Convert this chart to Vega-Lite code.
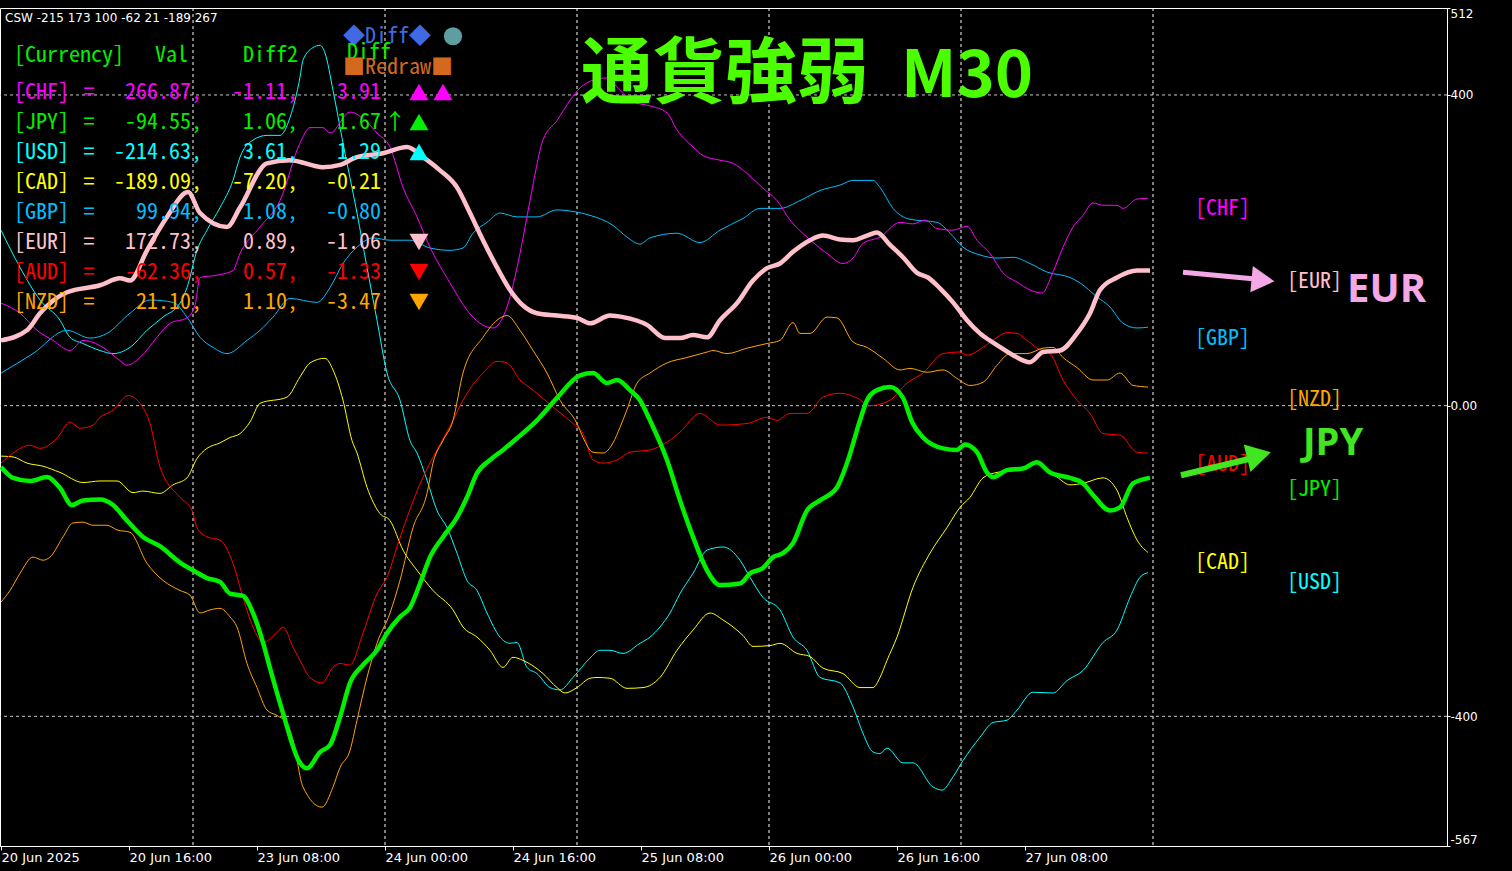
{
"$schema": "https://vega.github.io/schema/vega-lite/v6.json",
"width": 1447, "height": 838,
"autosize": {"type": "none"},
"padding": {"left": 0, "top": 8, "right": 65, "bottom": 25},
"background": "#000000",
"config": {"view": {"stroke": "#FFFFFF", "strokeWidth": 1}, "locale": {"number": {"decimal": ".", "thousands": ",", "grouping": [3], "currency": ["$", ""], "minus": "-"}}},
"datasets": {
"tbl": [
{"r":1,"c":"CHF","name":"[CHF]","val":266.87,"d2":-1.11,"d":3.91,"dir":"up","k":2},
{"r":2,"c":"JPY","name":"[JPY]","val":-94.55,"d2":1.06,"d":1.67,"dir":"up","k":1},
{"r":3,"c":"USD","name":"[USD]","val":-214.63,"d2":3.61,"d":1.29,"dir":"up","k":1},
{"r":4,"c":"CAD","name":"[CAD]","val":-189.09,"d2":-7.20,"d":-0.21,"dir":"none","k":0},
{"r":5,"c":"GBP","name":"[GBP]","val":99.94,"d2":1.08,"d":-0.80,"dir":"none","k":0},
{"r":6,"c":"EUR","name":"[EUR]","val":172.73,"d2":0.89,"d":-1.06,"dir":"down","k":1},
{"r":7,"c":"AUD","name":"[AUD]","val":-62.36,"d2":0.57,"d":-1.33,"dir":"down","k":1},
{"r":8,"c":"NZD","name":"[NZD]","val":21.10,"d2":1.10,"d":-3.47,"dir":"down","k":1}
],
"s": [
{"c":"EUR","t":0,"v":84},{"c":"EUR","t":6.5,"v":97},{"c":"EUR","t":9.75,"v":119},{"c":"EUR","t":16.5,"v":146},{"c":"EUR","t":24.75,"v":155},{"c":"EUR","t":29.75,"v":164},{"c":"EUR","t":32.25,"v":161},{"c":"EUR","t":36.5,"v":200},{"c":"EUR","t":41.5,"v":243},{"c":"EUR","t":46.75,"v":275},{"c":"EUR","t":49.75,"v":248},{"c":"EUR","t":56.5,"v":230},{"c":"EUR","t":59.75,"v":255},{"c":"EUR","t":66.5,"v":312},{"c":"EUR","t":72.25,"v":316},{"c":"EUR","t":80.5,"v":307},{"c":"EUR","t":84.75,"v":310},{"c":"EUR","t":89,"v":320},{"c":"EUR","t":95.5,"v":325},{"c":"EUR","t":101.5,"v":333},{"c":"EUR","t":105.5,"v":320},{"c":"EUR","t":109.75,"v":303},{"c":"EUR","t":114,"v":281},{"c":"EUR","t":117.25,"v":248},{"c":"EUR","t":120.5,"v":213},{"c":"EUR","t":124,"v":178},{"c":"EUR","t":127.25,"v":149},{"c":"EUR","t":130.5,"v":129},{"c":"EUR","t":134,"v":119},{"c":"EUR","t":139,"v":116},{"c":"EUR","t":144,"v":113},{"c":"EUR","t":147.25,"v":106},{"c":"EUR","t":152.25,"v":116},{"c":"EUR","t":155.5,"v":114},{"c":"EUR","t":161.5,"v":104},{"c":"EUR","t":166,"v":87},{"c":"EUR","t":169.75,"v":87},{"c":"EUR","t":173,"v":91},{"c":"EUR","t":176.5,"v":88},{"c":"EUR","t":179.75,"v":110},{"c":"EUR","t":184,"v":132},{"c":"EUR","t":188,"v":161},{"c":"EUR","t":191.5,"v":177},{"c":"EUR","t":194.75,"v":183},{"c":"EUR","t":198,"v":198},{"c":"EUR","t":202.25,"v":213},{"c":"EUR","t":205.5,"v":219},{"c":"EUR","t":209.75,"v":214},{"c":"EUR","t":213,"v":213},{"c":"EUR","t":216.5,"v":219},{"c":"EUR","t":219,"v":223},{"c":"EUR","t":222.25,"v":207},{"c":"EUR","t":225.5,"v":191},{"c":"EUR","t":229,"v":171},{"c":"EUR","t":231.75,"v":165},{"c":"EUR","t":234.75,"v":151},{"c":"EUR","t":238,"v":133},{"c":"EUR","t":241.5,"v":110},{"c":"EUR","t":244.75,"v":93},{"c":"EUR","t":249,"v":78},{"c":"EUR","t":253,"v":65},{"c":"EUR","t":257.25,"v":56},{"c":"EUR","t":260.5,"v":69},{"c":"EUR","t":264.75,"v":71},{"c":"EUR","t":269,"v":93},{"c":"EUR","t":272.25,"v":119},{"c":"EUR","t":274.75,"v":149},{"c":"EUR","t":279,"v":165},{"c":"EUR","t":284,"v":174},{"c":"EUR","t":287.25,"v":174},
{"c":"JPY","t":0,"v":-79},{"c":"JPY","t":3,"v":-93},{"c":"JPY","t":7.25,"v":-97},{"c":"JPY","t":11.5,"v":-92},{"c":"JPY","t":14.75,"v":-106},{"c":"JPY","t":17.75,"v":-128},{"c":"JPY","t":20.5,"v":-122},{"c":"JPY","t":24.75,"v":-121},{"c":"JPY","t":28,"v":-128},{"c":"JPY","t":31.5,"v":-148},{"c":"JPY","t":35.5,"v":-169},{"c":"JPY","t":39.75,"v":-181},{"c":"JPY","t":44.75,"v":-202},{"c":"JPY","t":48,"v":-212},{"c":"JPY","t":51.5,"v":-222},{"c":"JPY","t":54.75,"v":-227},{"c":"JPY","t":57.25,"v":-242},{"c":"JPY","t":60.5,"v":-245},{"c":"JPY","t":63,"v":-267},{"c":"JPY","t":65.5,"v":-305},{"c":"JPY","t":67.25,"v":-338},{"c":"JPY","t":70.5,"v":-396},{"c":"JPY","t":74.75,"v":-460},{"c":"JPY","t":76.5,"v":-467},{"c":"JPY","t":79.75,"v":-446},{"c":"JPY","t":82.25,"v":-437},{"c":"JPY","t":84.75,"v":-401},{"c":"JPY","t":87.25,"v":-357},{"c":"JPY","t":90.5,"v":-334},{"c":"JPY","t":94,"v":-315},{"c":"JPY","t":96.5,"v":-293},{"c":"JPY","t":99.75,"v":-272},{"c":"JPY","t":102.25,"v":-260},{"c":"JPY","t":104.75,"v":-229},{"c":"JPY","t":107.25,"v":-195},{"c":"JPY","t":110.5,"v":-169},{"c":"JPY","t":114,"v":-144},{"c":"JPY","t":116.5,"v":-118},{"c":"JPY","t":119,"v":-87},{"c":"JPY","t":122.25,"v":-70},{"c":"JPY","t":125.5,"v":-57},{"c":"JPY","t":129,"v":-42},{"c":"JPY","t":134,"v":-19},{"c":"JPY","t":139,"v":10},{"c":"JPY","t":144.75,"v":39},{"c":"JPY","t":148,"v":42},{"c":"JPY","t":151.5,"v":29},{"c":"JPY","t":154,"v":33},{"c":"JPY","t":157.25,"v":20},{"c":"JPY","t":159.75,"v":7},{"c":"JPY","t":162.25,"v":-19},{"c":"JPY","t":166.5,"v":-70},{"c":"JPY","t":169.75,"v":-122},{"c":"JPY","t":173,"v":-169},{"c":"JPY","t":176.5,"v":-212},{"c":"JPY","t":179.75,"v":-231},{"c":"JPY","t":184.75,"v":-229},{"c":"JPY","t":187.25,"v":-216},{"c":"JPY","t":190.5,"v":-209},{"c":"JPY","t":193,"v":-195},{"c":"JPY","t":195.5,"v":-190},{"c":"JPY","t":198,"v":-177},{"c":"JPY","t":201.5,"v":-135},{"c":"JPY","t":204.75,"v":-122},{"c":"JPY","t":209,"v":-105},{"c":"JPY","t":211.5,"v":-74},{"c":"JPY","t":214.75,"v":-19},{"c":"JPY","t":216.5,"v":7},{"c":"JPY","t":219,"v":20},{"c":"JPY","t":222.25,"v":24},{"c":"JPY","t":225.5,"v":10},{"c":"JPY","t":227.75,"v":-21},{"c":"JPY","t":230.5,"v":-41},{"c":"JPY","t":235.5,"v":-55},{"c":"JPY","t":239,"v":-57},{"c":"JPY","t":241,"v":-50},{"c":"JPY","t":244,"v":-60},{"c":"JPY","t":246.5,"v":-86},{"c":"JPY","t":248,"v":-92},{"c":"JPY","t":251.5,"v":-83},{"c":"JPY","t":255.5,"v":-81},{"c":"JPY","t":259,"v":-73},{"c":"JPY","t":262.25,"v":-86},{"c":"JPY","t":267.25,"v":-93},{"c":"JPY","t":270.5,"v":-100},{"c":"JPY","t":273,"v":-115},{"c":"JPY","t":277.25,"v":-135},{"c":"JPY","t":279.75,"v":-131},{"c":"JPY","t":283,"v":-100},{"c":"JPY","t":287.25,"v":-93},
{"c":"USD","t":0,"v":226},{"c":"USD","t":4.75,"v":178},{"c":"USD","t":9.75,"v":136},{"c":"USD","t":14.75,"v":110},{"c":"USD","t":17.25,"v":88},{"c":"USD","t":20.5,"v":80},{"c":"USD","t":24.75,"v":71},{"c":"USD","t":28,"v":67},{"c":"USD","t":32.25,"v":75},{"c":"USD","t":36.5,"v":97},{"c":"USD","t":40.5,"v":114},{"c":"USD","t":44.75,"v":132},{"c":"USD","t":46.5,"v":152},{"c":"USD","t":49,"v":200},{"c":"USD","t":51.5,"v":226},{"c":"USD","t":54.75,"v":255},{"c":"USD","t":58,"v":290},{"c":"USD","t":59.75,"v":320},{"c":"USD","t":63,"v":342},{"c":"USD","t":66.5,"v":348},{"c":"USD","t":69.75,"v":348},{"c":"USD","t":72.25,"v":371},{"c":"USD","t":74.75,"v":423},{"c":"USD","t":75.5,"v":445},{"c":"USD","t":78,"v":461},{"c":"USD","t":79.75,"v":464},{"c":"USD","t":81,"v":454},{"c":"USD","t":83,"v":406},{"c":"USD","t":85.5,"v":338},{"c":"USD","t":89,"v":248},{"c":"USD","t":91.5,"v":178},{"c":"USD","t":94,"v":110},{"c":"USD","t":96.5,"v":42},{"c":"USD","t":99.75,"v":7},{"c":"USD","t":102.25,"v":-45},{"c":"USD","t":104,"v":-61},{"c":"USD","t":106.5,"v":-96},{"c":"USD","t":109,"v":-135},{"c":"USD","t":111.5,"v":-157},{"c":"USD","t":114,"v":-190},{"c":"USD","t":116.5,"v":-225},{"c":"USD","t":119,"v":-238},{"c":"USD","t":121.5,"v":-267},{"c":"USD","t":124.75,"v":-298},{"c":"USD","t":127.25,"v":-306},{"c":"USD","t":129,"v":-305},{"c":"USD","t":131.5,"v":-337},{"c":"USD","t":134,"v":-345},{"c":"USD","t":137.25,"v":-363},{"c":"USD","t":139.75,"v":-366},{"c":"USD","t":143,"v":-350},{"c":"USD","t":147.25,"v":-325},{"c":"USD","t":149.75,"v":-315},{"c":"USD","t":152.25,"v":-315},{"c":"USD","t":155.5,"v":-319},{"c":"USD","t":159.75,"v":-306},{"c":"USD","t":162.25,"v":-298},{"c":"USD","t":164.75,"v":-285},{"c":"USD","t":167.25,"v":-267},{"c":"USD","t":169.75,"v":-242},{"c":"USD","t":173,"v":-216},{"c":"USD","t":176.5,"v":-186},{"c":"USD","t":180.5,"v":-182},{"c":"USD","t":184.75,"v":-199},{"c":"USD","t":187.25,"v":-221},{"c":"USD","t":190.5,"v":-247},{"c":"USD","t":194.75,"v":-263},{"c":"USD","t":198,"v":-298},{"c":"USD","t":201.5,"v":-315},{"c":"USD","t":204.75,"v":-350},{"c":"USD","t":209.75,"v":-357},{"c":"USD","t":213,"v":-388},{"c":"USD","t":215.5,"v":-422},{"c":"USD","t":218,"v":-446},{"c":"USD","t":219.75,"v":-448},{"c":"USD","t":221.5,"v":-441},{"c":"USD","t":225.5,"v":-460},{"c":"USD","t":228,"v":-460},{"c":"USD","t":233,"v":-491},{"c":"USD","t":235.25,"v":-495},{"c":"USD","t":238,"v":-478},{"c":"USD","t":240.5,"v":-457},{"c":"USD","t":244.75,"v":-427},{"c":"USD","t":248,"v":-408},{"c":"USD","t":251.5,"v":-405},{"c":"USD","t":254,"v":-392},{"c":"USD","t":258,"v":-369},{"c":"USD","t":263,"v":-370},{"c":"USD","t":266.5,"v":-354},{"c":"USD","t":270.5,"v":-341},{"c":"USD","t":275.5,"v":-305},{"c":"USD","t":279,"v":-289},{"c":"USD","t":282.25,"v":-247},{"c":"USD","t":284.75,"v":-221},{"c":"USD","t":286.75,"v":-215},
{"c":"CAD","t":0,"v":-65},{"c":"CAD","t":3,"v":-66},{"c":"CAD","t":6.5,"v":-74},{"c":"CAD","t":10.5,"v":-78},{"c":"CAD","t":14.75,"v":-86},{"c":"CAD","t":20.5,"v":-99},{"c":"CAD","t":24.75,"v":-97},{"c":"CAD","t":29,"v":-97},{"c":"CAD","t":33,"v":-112},{"c":"CAD","t":35.5,"v":-110},{"c":"CAD","t":39.75,"v":-113},{"c":"CAD","t":43,"v":-102},{"c":"CAD","t":46.5,"v":-93},{"c":"CAD","t":49,"v":-68},{"c":"CAD","t":51.5,"v":-55},{"c":"CAD","t":54.75,"v":-48},{"c":"CAD","t":57.25,"v":-41},{"c":"CAD","t":59.75,"v":-36},{"c":"CAD","t":62.25,"v":-21},{"c":"CAD","t":64.75,"v":3},{"c":"CAD","t":71.5,"v":11},{"c":"CAD","t":74.75,"v":37},{"c":"CAD","t":77.25,"v":55},{"c":"CAD","t":81,"v":61},{"c":"CAD","t":83,"v":46},{"c":"CAD","t":85.5,"v":7},{"c":"CAD","t":87.75,"v":-45},{"c":"CAD","t":89,"v":-61},{"c":"CAD","t":91.5,"v":-105},{"c":"CAD","t":94.75,"v":-139},{"c":"CAD","t":97.25,"v":-148},{"c":"CAD","t":100.5,"v":-186},{"c":"CAD","t":104,"v":-212},{"c":"CAD","t":108,"v":-238},{"c":"CAD","t":113,"v":-263},{"c":"CAD","t":115.5,"v":-285},{"c":"CAD","t":119,"v":-298},{"c":"CAD","t":122.25,"v":-315},{"c":"CAD","t":125.5,"v":-337},{"c":"CAD","t":128,"v":-324},{"c":"CAD","t":130.5,"v":-328},{"c":"CAD","t":135.5,"v":-345},{"c":"CAD","t":139,"v":-363},{"c":"CAD","t":141,"v":-370},{"c":"CAD","t":144,"v":-363},{"c":"CAD","t":147.25,"v":-351},{"c":"CAD","t":149,"v":-350},{"c":"CAD","t":152.25,"v":-351},{"c":"CAD","t":156.5,"v":-364},{"c":"CAD","t":160.5,"v":-363},{"c":"CAD","t":164.75,"v":-350},{"c":"CAD","t":169,"v":-315},{"c":"CAD","t":173,"v":-289},{"c":"CAD","t":177.25,"v":-267},{"c":"CAD","t":180.5,"v":-276},{"c":"CAD","t":185.5,"v":-296},{"c":"CAD","t":188,"v":-310},{"c":"CAD","t":192.25,"v":-309},{"c":"CAD","t":194.75,"v":-306},{"c":"CAD","t":199,"v":-319},{"c":"CAD","t":202.25,"v":-323},{"c":"CAD","t":205.5,"v":-338},{"c":"CAD","t":210.5,"v":-345},{"c":"CAD","t":214.75,"v":-363},{"c":"CAD","t":218,"v":-363},{"c":"CAD","t":219.75,"v":-350},{"c":"CAD","t":221.5,"v":-328},{"c":"CAD","t":224,"v":-298},{"c":"CAD","t":228,"v":-234},{"c":"CAD","t":232.25,"v":-190},{"c":"CAD","t":236.5,"v":-157},{"c":"CAD","t":239.75,"v":-131},{"c":"CAD","t":242.25,"v":-118},{"c":"CAD","t":245.5,"v":-93},{"c":"CAD","t":249,"v":-86},{"c":"CAD","t":254,"v":-83},{"c":"CAD","t":259,"v":-74},{"c":"CAD","t":264,"v":-92},{"c":"CAD","t":267.25,"v":-102},{"c":"CAD","t":270.5,"v":-100},{"c":"CAD","t":275.5,"v":-93},{"c":"CAD","t":279,"v":-109},{"c":"CAD","t":281.5,"v":-144},{"c":"CAD","t":284,"v":-173},{"c":"CAD","t":286.75,"v":-189},
{"c":"GBP","t":0,"v":42},{"c":"GBP","t":8,"v":67},{"c":"GBP","t":16.5,"v":97},{"c":"GBP","t":22.25,"v":87},{"c":"GBP","t":26.5,"v":93},{"c":"GBP","t":32.25,"v":119},{"c":"GBP","t":37.25,"v":136},{"c":"GBP","t":43,"v":133},{"c":"GBP","t":46.5,"v":114},{"c":"GBP","t":49.75,"v":88},{"c":"GBP","t":53,"v":75},{"c":"GBP","t":56.5,"v":67},{"c":"GBP","t":61.5,"v":84},{"c":"GBP","t":64.75,"v":97},{"c":"GBP","t":68,"v":114},{"c":"GBP","t":72.25,"v":138},{"c":"GBP","t":79,"v":133},{"c":"GBP","t":82.25,"v":152},{"c":"GBP","t":85.5,"v":183},{"c":"GBP","t":89,"v":204},{"c":"GBP","t":93,"v":216},{"c":"GBP","t":97.25,"v":213},{"c":"GBP","t":102.25,"v":213},{"c":"GBP","t":107.25,"v":203},{"c":"GBP","t":112.25,"v":200},{"c":"GBP","t":115.5,"v":203},{"c":"GBP","t":118,"v":222},{"c":"GBP","t":121.5,"v":236},{"c":"GBP","t":124.75,"v":248},{"c":"GBP","t":129,"v":243},{"c":"GBP","t":134,"v":243},{"c":"GBP","t":139,"v":252},{"c":"GBP","t":143,"v":250},{"c":"GBP","t":147.25,"v":245},{"c":"GBP","t":153,"v":232},{"c":"GBP","t":156.5,"v":217},{"c":"GBP","t":159.75,"v":208},{"c":"GBP","t":162.25,"v":216},{"c":"GBP","t":169,"v":222},{"c":"GBP","t":174.75,"v":210},{"c":"GBP","t":179.75,"v":226},{"c":"GBP","t":185.5,"v":241},{"c":"GBP","t":189.75,"v":254},{"c":"GBP","t":194.75,"v":254},{"c":"GBP","t":199.75,"v":264},{"c":"GBP","t":204.75,"v":277},{"c":"GBP","t":209.75,"v":284},{"c":"GBP","t":213,"v":290},{"c":"GBP","t":218,"v":290},{"c":"GBP","t":219.75,"v":281},{"c":"GBP","t":223,"v":254},{"c":"GBP","t":227.25,"v":240},{"c":"GBP","t":234,"v":236},{"c":"GBP","t":237.25,"v":222},{"c":"GBP","t":240.5,"v":204},{"c":"GBP","t":244.75,"v":194},{"c":"GBP","t":249,"v":190},{"c":"GBP","t":253,"v":191},{"c":"GBP","t":257.25,"v":183},{"c":"GBP","t":261.5,"v":172},{"c":"GBP","t":267.25,"v":165},{"c":"GBP","t":269.75,"v":158},{"c":"GBP","t":274,"v":140},{"c":"GBP","t":277.25,"v":127},{"c":"GBP","t":280.5,"v":106},{"c":"GBP","t":284,"v":100},{"c":"GBP","t":286.75,"v":101},
{"c":"CHF","t":0,"v":132},{"c":"CHF","t":4.75,"v":119},{"c":"CHF","t":9,"v":97},{"c":"CHF","t":13,"v":84},{"c":"CHF","t":17.25,"v":71},{"c":"CHF","t":20.5,"v":84},{"c":"CHF","t":25.5,"v":75},{"c":"CHF","t":29.75,"v":58},{"c":"CHF","t":31.5,"v":52},{"c":"CHF","t":34.75,"v":62},{"c":"CHF","t":39,"v":88},{"c":"CHF","t":42.25,"v":106},{"c":"CHF","t":46.5,"v":113},{"c":"CHF","t":48.5,"v":129},{"c":"CHF","t":49.75,"v":165},{"c":"CHF","t":54,"v":168},{"c":"CHF","t":58,"v":174},{"c":"CHF","t":59.75,"v":196},{"c":"CHF","t":64.75,"v":230},{"c":"CHF","t":69.75,"v":264},{"c":"CHF","t":74.75,"v":338},{"c":"CHF","t":77.25,"v":358},{"c":"CHF","t":80.5,"v":358},{"c":"CHF","t":82.25,"v":351},{"c":"CHF","t":87.25,"v":378},{"c":"CHF","t":91.5,"v":365},{"c":"CHF","t":94,"v":351},{"c":"CHF","t":97.25,"v":333},{"c":"CHF","t":100.5,"v":281},{"c":"CHF","t":104,"v":243},{"c":"CHF","t":107.25,"v":204},{"c":"CHF","t":112.25,"v":158},{"c":"CHF","t":116.5,"v":123},{"c":"CHF","t":119.75,"v":106},{"c":"CHF","t":123,"v":100},{"c":"CHF","t":126.5,"v":127},{"c":"CHF","t":129.75,"v":196},{"c":"CHF","t":132.25,"v":264},{"c":"CHF","t":135.5,"v":342},{"c":"CHF","t":139,"v":367},{"c":"CHF","t":142.25,"v":393},{"c":"CHF","t":144.75,"v":409},{"c":"CHF","t":148,"v":419},{"c":"CHF","t":151.5,"v":422},{"c":"CHF","t":154.75,"v":406},{"c":"CHF","t":158,"v":391},{"c":"CHF","t":162.25,"v":386},{"c":"CHF","t":166.5,"v":377},{"c":"CHF","t":169,"v":355},{"c":"CHF","t":173,"v":333},{"c":"CHF","t":175.5,"v":322},{"c":"CHF","t":179.75,"v":316},{"c":"CHF","t":183,"v":312},{"c":"CHF","t":186.5,"v":299},{"c":"CHF","t":190.5,"v":280},{"c":"CHF","t":194,"v":264},{"c":"CHF","t":197.25,"v":239},{"c":"CHF","t":201.5,"v":217},{"c":"CHF","t":206.5,"v":196},{"c":"CHF","t":210.5,"v":183},{"c":"CHF","t":213,"v":190},{"c":"CHF","t":215.5,"v":209},{"c":"CHF","t":219.75,"v":217},{"c":"CHF","t":224.75,"v":236},{"c":"CHF","t":228,"v":234},{"c":"CHF","t":231,"v":239},{"c":"CHF","t":234,"v":228},{"c":"CHF","t":238,"v":226},{"c":"CHF","t":241.5,"v":231},{"c":"CHF","t":244,"v":213},{"c":"CHF","t":247.25,"v":196},{"c":"CHF","t":250.5,"v":171},{"c":"CHF","t":254,"v":159},{"c":"CHF","t":257.25,"v":149},{"c":"CHF","t":260.25,"v":145},{"c":"CHF","t":263,"v":172},{"c":"CHF","t":265.5,"v":204},{"c":"CHF","t":268,"v":230},{"c":"CHF","t":270.5,"v":245},{"c":"CHF","t":273,"v":261},{"c":"CHF","t":275.5,"v":258},{"c":"CHF","t":279,"v":258},{"c":"CHF","t":280.5,"v":254},{"c":"CHF","t":284,"v":266},{"c":"CHF","t":286.75,"v":267},
{"c":"AUD","t":0,"v":-74},{"c":"AUD","t":3,"v":-61},{"c":"AUD","t":7.25,"v":-51},{"c":"AUD","t":9.75,"v":-55},{"c":"AUD","t":14,"v":-42},{"c":"AUD","t":17.25,"v":-21},{"c":"AUD","t":19.75,"v":-29},{"c":"AUD","t":23,"v":-25},{"c":"AUD","t":24.75,"v":-15},{"c":"AUD","t":28,"v":-6},{"c":"AUD","t":31.75,"v":13},{"c":"AUD","t":34.75,"v":3},{"c":"AUD","t":37.25,"v":-23},{"c":"AUD","t":39.75,"v":-79},{"c":"AUD","t":44.75,"v":-118},{"c":"AUD","t":47.75,"v":-135},{"c":"AUD","t":49,"v":-157},{"c":"AUD","t":51.5,"v":-169},{"c":"AUD","t":54.75,"v":-173},{"c":"AUD","t":58,"v":-203},{"c":"AUD","t":60.5,"v":-247},{"c":"AUD","t":63,"v":-285},{"c":"AUD","t":65.5,"v":-305},{"c":"AUD","t":69,"v":-292},{"c":"AUD","t":70.5,"v":-285},{"c":"AUD","t":73,"v":-311},{"c":"AUD","t":74.75,"v":-328},{"c":"AUD","t":77.25,"v":-350},{"c":"AUD","t":80.25,"v":-357},{"c":"AUD","t":83,"v":-337},{"c":"AUD","t":84.75,"v":-332},{"c":"AUD","t":87.25,"v":-334},{"c":"AUD","t":90.5,"v":-293},{"c":"AUD","t":94,"v":-242},{"c":"AUD","t":96.5,"v":-221},{"c":"AUD","t":99,"v":-182},{"c":"AUD","t":101.5,"v":-144},{"c":"AUD","t":105.5,"v":-92},{"c":"AUD","t":109,"v":-57},{"c":"AUD","t":113,"v":-19},{"c":"AUD","t":115.5,"v":7},{"c":"AUD","t":120.5,"v":42},{"c":"AUD","t":124,"v":57},{"c":"AUD","t":126.5,"v":55},{"c":"AUD","t":129.75,"v":33},{"c":"AUD","t":133,"v":20},{"c":"AUD","t":139,"v":-6},{"c":"AUD","t":143,"v":-23},{"c":"AUD","t":145.5,"v":-36},{"c":"AUD","t":148,"v":-70},{"c":"AUD","t":150.5,"v":-74},{"c":"AUD","t":154,"v":-70},{"c":"AUD","t":157.25,"v":-60},{"c":"AUD","t":162.25,"v":-57},{"c":"AUD","t":166.5,"v":-47},{"c":"AUD","t":169.75,"v":-34},{"c":"AUD","t":174.75,"v":-10},{"c":"AUD","t":179.75,"v":-25},{"c":"AUD","t":186.5,"v":-23},{"c":"AUD","t":191.5,"v":-15},{"c":"AUD","t":194,"v":-19},{"c":"AUD","t":197.25,"v":-10},{"c":"AUD","t":201.5,"v":-10},{"c":"AUD","t":205.5,"v":11},{"c":"AUD","t":209.75,"v":16},{"c":"AUD","t":214,"v":10},{"c":"AUD","t":217.25,"v":0},{"c":"AUD","t":222.25,"v":7},{"c":"AUD","t":226.5,"v":29},{"c":"AUD","t":230.5,"v":42},{"c":"AUD","t":235.5,"v":67},{"c":"AUD","t":239.75,"v":69},{"c":"AUD","t":241.5,"v":65},{"c":"AUD","t":245.5,"v":75},{"c":"AUD","t":249,"v":88},{"c":"AUD","t":251.5,"v":94},{"c":"AUD","t":254,"v":93},{"c":"AUD","t":256.5,"v":84},{"c":"AUD","t":259,"v":74},{"c":"AUD","t":262.25,"v":67},{"c":"AUD","t":265.5,"v":33},{"c":"AUD","t":269,"v":7},{"c":"AUD","t":272.25,"v":-10},{"c":"AUD","t":275.5,"v":-36},{"c":"AUD","t":279.75,"v":-38},{"c":"AUD","t":284,"v":-60},{"c":"AUD","t":286.75,"v":-61},
{"c":"NZD","t":0,"v":-253},{"c":"NZD","t":2.25,"v":-238},{"c":"NZD","t":4.75,"v":-216},{"c":"NZD","t":8,"v":-195},{"c":"NZD","t":10.5,"v":-199},{"c":"NZD","t":12.25,"v":-195},{"c":"NZD","t":15.5,"v":-169},{"c":"NZD","t":18,"v":-151},{"c":"NZD","t":20.5,"v":-150},{"c":"NZD","t":23,"v":-154},{"c":"NZD","t":26.5,"v":-154},{"c":"NZD","t":29,"v":-160},{"c":"NZD","t":32.25,"v":-163},{"c":"NZD","t":36.5,"v":-203},{"c":"NZD","t":40.5,"v":-225},{"c":"NZD","t":44.75,"v":-238},{"c":"NZD","t":47.25,"v":-244},{"c":"NZD","t":49.75,"v":-267},{"c":"NZD","t":52.25,"v":-263},{"c":"NZD","t":54.75,"v":-261},{"c":"NZD","t":57.25,"v":-272},{"c":"NZD","t":59,"v":-285},{"c":"NZD","t":61.5,"v":-332},{"c":"NZD","t":64,"v":-363},{"c":"NZD","t":66.5,"v":-392},{"c":"NZD","t":69,"v":-399},{"c":"NZD","t":71.5,"v":-409},{"c":"NZD","t":73,"v":-431},{"c":"NZD","t":75.5,"v":-491},{"c":"NZD","t":80.25,"v":-517},{"c":"NZD","t":83,"v":-491},{"c":"NZD","t":84.75,"v":-466},{"c":"NZD","t":87.25,"v":-444},{"c":"NZD","t":89,"v":-405},{"c":"NZD","t":91.5,"v":-350},{"c":"NZD","t":94,"v":-306},{"c":"NZD","t":97.25,"v":-267},{"c":"NZD","t":99.75,"v":-225},{"c":"NZD","t":103,"v":-157},{"c":"NZD","t":106.5,"v":-113},{"c":"NZD","t":108,"v":-74},{"c":"NZD","t":110.5,"v":-45},{"c":"NZD","t":113,"v":-19},{"c":"NZD","t":115.5,"v":42},{"c":"NZD","t":120.5,"v":88},{"c":"NZD","t":124,"v":110},{"c":"NZD","t":126.5,"v":116},{"c":"NZD","t":129.75,"v":97},{"c":"NZD","t":133,"v":71},{"c":"NZD","t":136.5,"v":42},{"c":"NZD","t":139.75,"v":7},{"c":"NZD","t":144,"v":-23},{"c":"NZD","t":145.5,"v":-41},{"c":"NZD","t":148,"v":-60},{"c":"NZD","t":150.5,"v":-61},{"c":"NZD","t":153,"v":-48},{"c":"NZD","t":154.75,"v":-28},{"c":"NZD","t":156.5,"v":-5},{"c":"NZD","t":159,"v":29},{"c":"NZD","t":162.25,"v":42},{"c":"NZD","t":166.5,"v":55},{"c":"NZD","t":171.5,"v":62},{"c":"NZD","t":176.5,"v":69},{"c":"NZD","t":178,"v":71},{"c":"NZD","t":181.5,"v":67},{"c":"NZD","t":186.5,"v":74},{"c":"NZD","t":191.5,"v":80},{"c":"NZD","t":194.75,"v":84},{"c":"NZD","t":198,"v":107},{"c":"NZD","t":199.75,"v":93},{"c":"NZD","t":202.25,"v":93},{"c":"NZD","t":206.5,"v":114},{"c":"NZD","t":209,"v":113},{"c":"NZD","t":213,"v":82},{"c":"NZD","t":216.5,"v":75},{"c":"NZD","t":220.5,"v":61},{"c":"NZD","t":224.75,"v":46},{"c":"NZD","t":227.25,"v":48},{"c":"NZD","t":231.5,"v":43},{"c":"NZD","t":235.5,"v":46},{"c":"NZD","t":239,"v":35},{"c":"NZD","t":242.25,"v":26},{"c":"NZD","t":245.5,"v":30},{"c":"NZD","t":249,"v":52},{"c":"NZD","t":252.25,"v":67},{"c":"NZD","t":256.5,"v":67},{"c":"NZD","t":260.5,"v":74},{"c":"NZD","t":263,"v":75},{"c":"NZD","t":265.5,"v":62},{"c":"NZD","t":269,"v":49},{"c":"NZD","t":273,"v":33},{"c":"NZD","t":276.5,"v":33},{"c":"NZD","t":279.75,"v":42},{"c":"NZD","t":283,"v":26},{"c":"NZD","t":286.75,"v":24}
]
},
"resolve": {"scale": {"y": "independent"}},
"layer": [
{"data": {"values": [{"t":48},{"t":96},{"t":144},{"t":192},{"t":240},{"t":288}]},
 "mark": {"type": "rule", "color": "#FFFFFF", "strokeDash": [3,3], "strokeWidth": 1},
 "encoding": {"x": {"field": "t", "type": "quantitative", "scale": {"domain": [-0.25, 361.5], "nice": false, "zero": false},
        "axis": {"values": [0,32,64,96,128,160,192,224,256], "labelExpr": "['20 Jun 2025','20 Jun 16:00','23 Jun 08:00','24 Jun 00:00','24 Jun 16:00','25 Jun 08:00','26 Jun 00:00','26 Jun 16:00','27 Jun 08:00'][round(datum.value/32)]", "grid": false, "domainColor": "#FFFFFF", "tickColor": "#FFFFFF", "tickSize": 4, "labelColor": "#FFFFFF", "labelFont": "DejaVu Sans", "labelFontSize": 13, "labelAlign": "left", "labelBaseline": "top", "labelPadding": 1, "labelFlush": false, "labelOverlap": false, "title": null}}}},
{"data": {"values": [{"v":400},{"v":0},{"v":-400}]},
 "mark": {"type": "rule", "color": "#C8C8C8", "strokeDash": [3,3], "strokeWidth": 1},
 "encoding": {"y": {"field": "v", "type": "quantitative", "scale": {"domain": [-567, 512], "nice": false, "zero": false}, "axis": null}}},
{"data": {"name": "s"},
 "transform": [{"filter": {"field": "c", "oneOf": ["CHF","USD","CAD","GBP","AUD","NZD"]}}],
 "mark": {"type": "line", "strokeWidth": 1, "interpolate": "monotone"},
 "encoding": {
  "x": {"field": "t", "type": "quantitative", "scale": {"domain": [-0.25, 361.5], "nice": false, "zero": false},
        "axis": {"values": [0,32,64,96,128,160,192,224,256], "labelExpr": "['20 Jun 2025','20 Jun 16:00','23 Jun 08:00','24 Jun 00:00','24 Jun 16:00','25 Jun 08:00','26 Jun 00:00','26 Jun 16:00','27 Jun 08:00'][round(datum.value/32)]", "grid": false, "domainColor": "#FFFFFF", "tickColor": "#FFFFFF", "tickSize": 4, "labelColor": "#FFFFFF", "labelFont": "DejaVu Sans", "labelFontSize": 13, "labelAlign": "left", "labelBaseline": "top", "labelPadding": 1, "labelFlush": false, "labelOverlap": false, "title": null}},
  "y": {"field": "v", "type": "quantitative", "scale": {"domain": [-567, 512], "nice": false, "zero": false},
        "axis": {"orient": "right", "values": [512,400,0,-400,-567], "format": "d", "labelExpr": "datum.value == 0 ? '0.00' : datum.label", "grid": false, "domainColor": "#FFFFFF", "tickColor": "#FFFFFF", "tickSize": 3, "labelPadding": 0, "labelColor": "#FFFFFF", "labelFont": "DejaVu Sans", "labelFontSize": 12, "labelFlush": true, "labelAlign": "left", "labelOverlap": false, "title": null}},
  "color": {"field": "c", "type": "nominal", "scale": {"domain": ["CHF","JPY","USD","CAD","GBP","EUR","AUD","NZD"], "range": ["#FF00FF","#00F000","#00FFFF","#FFFF00","#00BFFF","#FFC0CB","#FF0000","#FFA500"]}, "legend": null}
 }},
{"data": {"name": "s"},
 "transform": [{"filter": {"field": "c", "oneOf": ["EUR","JPY"]}}],
 "mark": {"type": "line", "strokeWidth": 4.5, "interpolate": "monotone", "strokeJoin": "round"},
 "encoding": {
  "x": {"field": "t", "type": "quantitative", "scale": {"domain": [-0.25, 361.5], "nice": false, "zero": false}},
  "y": {"field": "v", "type": "quantitative", "scale": {"domain": [-567, 512], "nice": false, "zero": false}, "axis": null},
  "color": {"field": "c", "type": "nominal", "scale": {"domain": ["CHF","JPY","USD","CAD","GBP","EUR","AUD","NZD"], "range": ["#FF00FF","#00F000","#00FFFF","#FFFF00","#00BFFF","#FFC0CB","#FF0000","#FFA500"]}, "legend": null}
 }},
{"data": {"name": "tbl"},
 "mark": {"type": "text", "align": "left", "baseline": "middle", "font": "Noto Sans Mono CJK JP, DejaVu Sans Mono, monospace", "fontSize": 22},
 "encoding": {"x": {"datum": 3.25, "type": "quantitative"},
  "y": {"field": "r", "type": "quantitative", "scale": {"domain": [-1.8, 26.133], "nice": false, "zero": false, "reverse": true}, "axis": null},
  "color": {"field": "c", "type": "nominal", "legend": null}, "text": {"field": "name"}}},
{"data": {"name": "tbl"},
 "mark": {"type": "text", "align": "center", "baseline": "middle", "font": "Noto Sans Mono CJK JP, DejaVu Sans Mono, monospace", "fontSize": 22},
 "encoding": {"x": {"datum": 22, "type": "quantitative"},
  "y": {"field": "r", "type": "quantitative", "scale": {"domain": [-1.8, 26.133], "nice": false, "zero": false, "reverse": true}, "axis": null},
  "color": {"field": "c", "type": "nominal", "legend": null}, "text": {"value": "="}}},
{"data": {"name": "tbl"},
 "mark": {"type": "text", "align": "right", "baseline": "middle", "font": "Noto Sans Mono CJK JP, DejaVu Sans Mono, monospace", "fontSize": 22},
 "encoding": {"x": {"datum": 47.5, "type": "quantitative"},
  "y": {"field": "r", "type": "quantitative", "scale": {"domain": [-1.8, 26.133], "nice": false, "zero": false, "reverse": true}, "axis": null},
  "color": {"field": "c", "type": "nominal", "legend": null}, "text": {"field": "val", "type": "quantitative", "format": ".2f"}}},
{"data": {"name": "tbl"},
 "mark": {"type": "text", "align": "left", "baseline": "middle", "font": "Noto Sans Mono CJK JP, DejaVu Sans Mono, monospace", "fontSize": 22},
 "encoding": {"x": {"datum": 47.5, "type": "quantitative"},
  "y": {"field": "r", "type": "quantitative", "scale": {"domain": [-1.8, 26.133], "nice": false, "zero": false, "reverse": true}, "axis": null},
  "color": {"field": "c", "type": "nominal", "legend": null}, "text": {"value": ","}}},
{"data": {"name": "tbl"},
 "mark": {"type": "text", "align": "right", "baseline": "middle", "font": "Noto Sans Mono CJK JP, DejaVu Sans Mono, monospace", "fontSize": 22},
 "encoding": {"x": {"datum": 71.5, "type": "quantitative"},
  "y": {"field": "r", "type": "quantitative", "scale": {"domain": [-1.8, 26.133], "nice": false, "zero": false, "reverse": true}, "axis": null},
  "color": {"field": "c", "type": "nominal", "legend": null}, "text": {"field": "d2", "type": "quantitative", "format": ".2f"}}},
{"data": {"name": "tbl"},
 "mark": {"type": "text", "align": "left", "baseline": "middle", "font": "Noto Sans Mono CJK JP, DejaVu Sans Mono, monospace", "fontSize": 22},
 "encoding": {"x": {"datum": 71.5, "type": "quantitative"},
  "y": {"field": "r", "type": "quantitative", "scale": {"domain": [-1.8, 26.133], "nice": false, "zero": false, "reverse": true}, "axis": null},
  "color": {"field": "c", "type": "nominal", "legend": null}, "text": {"value": ","}}},
{"data": {"name": "tbl"},
 "mark": {"type": "text", "align": "right", "baseline": "middle", "font": "Noto Sans Mono CJK JP, DejaVu Sans Mono, monospace", "fontSize": 22},
 "encoding": {"x": {"datum": 95, "type": "quantitative"},
  "y": {"field": "r", "type": "quantitative", "scale": {"domain": [-1.8, 26.133], "nice": false, "zero": false, "reverse": true}, "axis": null},
  "color": {"field": "c", "type": "nominal", "legend": null}, "text": {"field": "d", "type": "quantitative", "format": ".2f"}}},
{"data": {"name": "tbl"},
 "transform": [{"filter": "datum.k >= 1"}],
 "mark": {"type": "point", "filled": true, "opacity": 1, "size": 360},
 "encoding": {"x": {"datum": 104.5, "type": "quantitative"},
  "y": {"field": "r", "type": "quantitative", "scale": {"domain": [-1.8, 26.133], "nice": false, "zero": false, "reverse": true}, "axis": null},
  "shape": {"field": "dir", "type": "nominal", "scale": {"domain": ["up","down"], "range": ["triangle-up","triangle-down"]}, "legend": null},
  "color": {"field": "c", "type": "nominal", "legend": null}}},
{"data": {"name": "tbl"},
 "transform": [{"filter": "datum.k >= 2"}],
 "mark": {"type": "point", "filled": true, "opacity": 1, "size": 360},
 "encoding": {"x": {"datum": 110.5, "type": "quantitative"},
  "y": {"field": "r", "type": "quantitative", "scale": {"domain": [-1.8, 26.133], "nice": false, "zero": false, "reverse": true}, "axis": null},
  "shape": {"field": "dir", "type": "nominal", "scale": {"domain": ["up","down"], "range": ["triangle-up","triangle-down"]}, "legend": null},
  "color": {"field": "c", "type": "nominal", "legend": null}}},
{"data": {"name": "tbl"},
 "transform": [{"filter": {"field": "c", "oneOf": ["CHF","GBP","AUD","CAD"]}}],
 "mark": {"type": "text", "align": "left", "baseline": "top", "font": "Noto Sans Mono CJK JP, DejaVu Sans Mono, monospace", "fontSize": 22},
 "encoding": {"x": {"datum": 298.5, "type": "quantitative"},
  "y": {"field": "val", "type": "quantitative", "scale": {"domain": [-567, 512], "nice": false, "zero": false}, "axis": null},
  "color": {"field": "c", "type": "nominal", "legend": null}, "text": {"field": "name"}}},
{"data": {"name": "tbl"},
 "transform": [{"filter": {"field": "c", "oneOf": ["EUR","NZD","JPY","USD"]}}],
 "mark": {"type": "text", "align": "left", "baseline": "top", "font": "Noto Sans Mono CJK JP, DejaVu Sans Mono, monospace", "fontSize": 22},
 "encoding": {"x": {"datum": 321.5, "type": "quantitative"},
  "y": {"field": "val", "type": "quantitative", "scale": {"domain": [-567, 512], "nice": false, "zero": false}, "axis": null},
  "color": {"field": "c", "type": "nominal", "legend": null}, "text": {"field": "name"}}},
{"data": {"values": [{}]},
 "mark": {"type": "text", "align": "left", "baseline": "middle", "font": "DejaVu Sans", "fontSize": 12, "color": "#FFFFFF"},
 "encoding": {"x": {"datum": 1, "type": "quantitative"}, "y": {"datum": 498.8, "type": "quantitative", "scale": {"domain": [-567, 512], "nice": false, "zero": false}, "axis": null}, "text": {"value": "CSW -215 173 100 -62 21 -189 267"}}},
{"data": {"values": [{}]},
 "mark": {"type": "text", "align": "left", "baseline": "middle", "font": "Noto Sans Mono CJK JP, DejaVu Sans Mono, monospace", "fontSize": 22, "color": "#00F000"},
 "encoding": {"x": {"datum": 3.25, "type": "quantitative"}, "y": {"datum": 451.2, "type": "quantitative", "scale": {"domain": [-567, 512], "nice": false, "zero": false}, "axis": null}, "text": {"value": "[Currency]"}}},
{"data": {"values": [{}]},
 "mark": {"type": "text", "align": "right", "baseline": "middle", "font": "Noto Sans Mono CJK JP, DejaVu Sans Mono, monospace", "fontSize": 22, "color": "#00F000"},
 "encoding": {"x": {"datum": 46.75, "type": "quantitative"}, "y": {"datum": 451.2, "type": "quantitative", "scale": {"domain": [-567, 512], "nice": false, "zero": false}, "axis": null}, "text": {"value": "Val"}}},
{"data": {"values": [{}]},
 "mark": {"type": "text", "align": "right", "baseline": "middle", "font": "Noto Sans Mono CJK JP, DejaVu Sans Mono, monospace", "fontSize": 22, "color": "#00F000"},
 "encoding": {"x": {"datum": 74.25, "type": "quantitative"}, "y": {"datum": 451.2, "type": "quantitative", "scale": {"domain": [-567, 512], "nice": false, "zero": false}, "axis": null}, "text": {"value": "Diff2"}}},
{"data": {"values": [{}]},
 "mark": {"type": "text", "align": "left", "baseline": "middle", "font": "Noto Sans Mono CJK JP, DejaVu Sans Mono, monospace", "fontSize": 22, "color": "#4169E1"},
 "encoding": {"x": {"datum": 85.5, "type": "quantitative"}, "y": {"datum": 475.6, "type": "quantitative", "scale": {"domain": [-567, 512], "nice": false, "zero": false}, "axis": null}, "text": {"value": "◆Diff◆"}}},
{"data": {"values": [{}]},
 "mark": {"type": "point", "shape": "circle", "filled": true, "opacity": 1, "size": 330, "color": "#5F9EA0"},
 "encoding": {"x": {"datum": 113, "type": "quantitative"}, "y": {"datum": 475.6, "type": "quantitative", "scale": {"domain": [-567, 512], "nice": false, "zero": false}, "axis": null}}},
{"data": {"values": [{}]},
 "mark": {"type": "text", "align": "left", "baseline": "middle", "font": "Noto Sans Mono CJK JP, DejaVu Sans Mono, monospace", "fontSize": 22, "color": "#00F000"},
 "encoding": {"x": {"datum": 86.5, "type": "quantitative"}, "y": {"datum": 455, "type": "quantitative", "scale": {"domain": [-567, 512], "nice": false, "zero": false}, "axis": null}, "text": {"value": "Diff"}}},
{"data": {"values": [{}]},
 "mark": {"type": "text", "align": "left", "baseline": "middle", "font": "Noto Sans Mono CJK JP, DejaVu Sans Mono, monospace", "fontSize": 22, "color": "#D2691E"},
 "encoding": {"x": {"datum": 85.5, "type": "quantitative"}, "y": {"datum": 435.7, "type": "quantitative", "scale": {"domain": [-567, 512], "nice": false, "zero": false}, "axis": null}, "text": {"value": "■Redraw■"}}},
{"data": {"values": [{}]},
 "mark": {"type": "text", "align": "center", "baseline": "middle", "font": "Noto Sans Mono CJK JP, DejaVu Sans Mono, monospace", "fontSize": 22, "color": "#00F000"},
 "encoding": {"x": {"datum": 98.5, "type": "quantitative"}, "y": {"datum": 364.9, "type": "quantitative", "scale": {"domain": [-567, 512], "nice": false, "zero": false}, "axis": null}, "text": {"value": "↑"}}},
{"data": {"values": [{}]},
 "mark": {"type": "text", "align": "left", "baseline": "alphabetic", "font": "Noto Sans CJK JP", "fontSize": 72, "fontWeight": "bold", "color": "#4CFF00"},
 "encoding": {"x": {"datum": 145, "type": "quantitative"}, "y": {"datum": 397, "type": "quantitative", "scale": {"domain": [-567, 512], "nice": false, "zero": false}, "axis": null}, "text": {"value": "通貨強弱"}}},
{"data": {"values": [{}]},
 "mark": {"type": "text", "align": "left", "baseline": "alphabetic", "font": "Noto Sans CJK JP", "fontSize": 65, "fontWeight": "bold", "color": "#4CFF00"},
 "encoding": {"x": {"datum": 225, "type": "quantitative"}, "y": {"datum": 397, "type": "quantitative", "scale": {"domain": [-567, 512], "nice": false, "zero": false}, "axis": null}, "text": {"value": "M30"}}},
{"data": {"values": [{}]},
 "mark": {"type": "text", "align": "left", "baseline": "alphabetic", "font": "Open Sans", "fontSize": 40, "fontWeight": "bold", "color": "#F5A8E6"},
 "encoding": {"x": {"datum": 336.5, "type": "quantitative"}, "y": {"datum": 133.2, "type": "quantitative", "scale": {"domain": [-567, 512], "nice": false, "zero": false}, "axis": null}, "text": {"value": "EUR"}}},
{"data": {"values": [{}]},
 "mark": {"type": "text", "align": "left", "baseline": "alphabetic", "font": "Open Sans", "fontSize": 38, "fontWeight": "bold", "color": "#40E620"},
 "encoding": {"x": {"datum": 325.5, "type": "quantitative"}, "y": {"datum": -63.9, "type": "quantitative", "scale": {"domain": [-567, 512], "nice": false, "zero": false}, "axis": null}, "text": {"value": "JPY"}}},
{"data": {"values": [{}]},
 "mark": {"type": "rule", "color": "#F5A8E6", "strokeWidth": 5},
 "encoding": {"x": {"datum": 295.5, "type": "quantitative"}, "x2": {"datum": 314.25}, "y": {"datum": 171.8, "type": "quantitative", "scale": {"domain": [-567, 512], "nice": false, "zero": false}, "axis": null}, "y2": {"datum": 162.8}}},
{"data": {"values": [{}]},
 "mark": {"type": "point", "shape": "triangle-right", "filled": true, "opacity": 1, "size": 700, "angle": 5.4, "color": "#F5A8E6"},
 "encoding": {"x": {"datum": 315.5, "type": "quantitative"}, "y": {"datum": 161.5, "type": "quantitative", "scale": {"domain": [-567, 512], "nice": false, "zero": false}, "axis": null}}},
{"data": {"values": [{}]},
 "mark": {"type": "rule", "color": "#40E620", "strokeWidth": 6},
 "encoding": {"x": {"datum": 295, "type": "quantitative"}, "x2": {"datum": 312.75}, "y": {"datum": -89.6, "type": "quantitative", "scale": {"domain": [-567, 512], "nice": false, "zero": false}, "axis": null}, "y2": {"datum": -67.7}}},
{"data": {"values": [{}]},
 "mark": {"type": "point", "shape": "triangle-right", "filled": true, "opacity": 1, "size": 800, "angle": 346.3, "color": "#40E620"},
 "encoding": {"x": {"datum": 314.5, "type": "quantitative"}, "y": {"datum": -63.9, "type": "quantitative", "scale": {"domain": [-567, 512], "nice": false, "zero": false}, "axis": null}}}
]
}
